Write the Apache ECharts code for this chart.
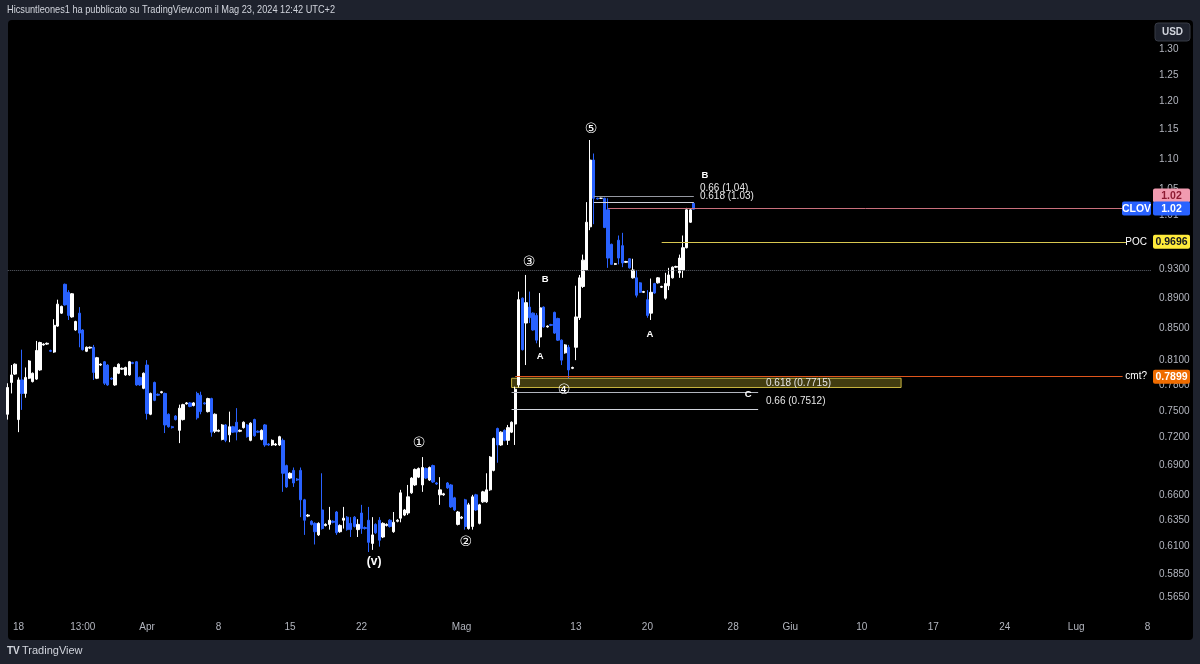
<!DOCTYPE html>
<html><head><meta charset="utf-8">
<script src="https://cdn.jsdelivr.net/npm/echarts@6/dist/echarts.min.js"></script>
<style>html,body{margin:0;padding:0;background:#1e222d;}#c{width:1200px;height:664px;}</style>
</head><body><div id="c"></div>
<script>
// ---------- DATA ----------
// candles: [open, close, low, high] (USD), 4h bars, first 3 bars are 15 Mar 2024
const ohlc = [
[0.746,0.777,0.740,0.782],[0.783,0.792,0.770,0.804],[0.793,0.805,0.792,0.806],[0.740,0.786,0.726,0.789],
[0.786,0.770,0.751,0.823],[0.770,0.789,0.765,0.801],[0.788,0.809,0.787,0.810],[0.784,0.794,0.783,0.795],
[0.787,0.822,0.786,0.834],[0.798,0.832,0.797,0.833],[0.829,0.830,0.828,0.831],[0.830,0.831,0.829,0.832],
[0.822,0.821,0.820,0.823],[0.820,0.854,0.819,0.862],[0.853,0.882,0.852,0.888],[0.870,0.879,0.869,0.880],
[0.909,0.881,0.880,0.910],[0.898,0.867,0.861,0.901],[0.865,0.896,0.864,0.897],[0.848,0.859,0.847,0.860],
[0.870,0.844,0.826,0.878],[0.848,0.823,0.822,0.849],[0.821,0.826,0.820,0.827],[0.825,0.826,0.824,0.827],
[0.826,0.795,0.786,0.829],[0.788,0.813,0.787,0.814],[0.804,0.805,0.803,0.806],[0.808,0.782,0.780,0.809],
[0.804,0.780,0.779,0.805],[0.788,0.787,0.786,0.789],[0.780,0.801,0.779,0.802],
[0.794,0.805,0.793,0.806],[0.799,0.800,0.798,0.801],[0.792,0.801,0.791,0.802],[0.792,0.808,0.791,0.809],
[0.807,0.806,0.805,0.808],[0.808,0.780,0.779,0.809],[0.789,0.780,0.779,0.790],[0.776,0.794,0.775,0.795],
[0.804,0.747,0.740,0.810],[0.746,0.770,0.745,0.771],[0.783,0.762,0.761,0.784],[0.769,0.768,0.767,0.770],
[0.771,0.772,0.770,0.773],[0.770,0.734,0.725,0.771],[0.746,0.732,0.731,0.747],[0.732,0.731,0.730,0.733],
[0.744,0.740,0.739,0.745],[0.728,0.753,0.714,0.757],[0.740,0.757,0.739,0.758],[0.758,0.759,0.757,0.760],
[0.759,0.755,0.754,0.760],[0.756,0.759,0.755,0.760],[0.770,0.742,0.740,0.772],
[0.768,0.749,0.746,0.772],[0.759,0.758,0.757,0.760],[0.749,0.764,0.748,0.765],[0.764,0.726,0.721,0.765],
[0.727,0.746,0.725,0.747],[0.727,0.728,0.726,0.729],[0.718,0.734,0.717,0.735],[0.734,0.717,0.715,0.735],
[0.723,0.732,0.715,0.749],[0.732,0.726,0.725,0.733],[0.737,0.726,0.717,0.753],[0.727,0.728,0.726,0.729],
[0.731,0.737,0.730,0.738],[0.734,0.721,0.720,0.735],[0.717,0.736,0.716,0.737],[0.740,0.722,0.721,0.741],
[0.727,0.726,0.725,0.728],[0.718,0.728,0.717,0.729],[0.734,0.712,0.710,0.735],[0.713,0.712,0.711,0.714],
[0.712,0.717,0.711,0.718],[0.712,0.713,0.711,0.714],[0.712,0.721,0.711,0.722],[0.717,0.682,0.663,0.719],
[0.690,0.668,0.667,0.691],[0.677,0.682,0.676,0.683],[0.685,0.672,0.668,0.688],[0.676,0.675,0.674,0.677],
[0.685,0.655,0.638,0.688],[0.655,0.635,0.621,0.656],[0.639,0.640,0.638,0.641],[0.634,0.631,0.630,0.635],
[0.632,0.624,0.612,0.633],[0.621,0.632,0.620,0.633],[0.645,0.627,0.626,0.682],[0.630,0.631,0.629,0.632],
[0.631,0.635,0.626,0.648],[0.634,0.633,0.632,0.635],[0.643,0.623,0.621,0.644],[0.624,0.630,0.623,0.631],
[0.635,0.637,0.627,0.648],[0.638,0.626,0.625,0.639],[0.632,0.626,0.619,0.638],[0.638,0.629,0.628,0.639],
[0.626,0.631,0.619,0.636],[0.642,0.627,0.622,0.650],[0.628,0.627,0.626,0.629],[0.635,0.614,0.605,0.648],
[0.613,0.621,0.607,0.638],[0.631,0.623,0.622,0.632],[0.635,0.616,0.610,0.638],[0.619,0.632,0.618,0.633],
[0.630,0.631,0.629,0.632],[0.635,0.629,0.628,0.636],[0.624,0.633,0.623,0.643],[0.634,0.635,0.633,0.636],
[0.637,0.662,0.633,0.665],[0.640,0.645,0.639,0.646],[0.642,0.658,0.640,0.670],[0.662,0.677,0.661,0.678],
[0.670,0.686,0.669,0.687],[0.678,0.687,0.677,0.688],[0.670,0.688,0.663,0.699],[0.687,0.677,0.676,0.688],
[0.675,0.688,0.674,0.689],[0.690,0.673,0.672,0.691],[0.672,0.671,0.670,0.673],[0.660,0.665,0.650,0.678],
[0.660,0.661,0.659,0.662],[0.672,0.667,0.666,0.673],[0.670,0.648,0.647,0.671],[0.657,0.645,0.644,0.658],
[0.631,0.643,0.630,0.644],[0.637,0.638,0.636,0.639],[0.655,0.629,0.626,0.656],[0.627,0.650,0.626,0.652],
[0.629,0.658,0.626,0.660],[0.660,0.645,0.644,0.661],[0.632,0.650,0.631,0.651],[0.653,0.663,0.652,0.664],
[0.653,0.665,0.652,0.682],[0.665,0.699,0.664,0.700],[0.685,0.719,0.684,0.720],[0.730,0.712,0.693,0.731],
[0.712,0.726,0.711,0.727],[0.728,0.717,0.716,0.729],[0.717,0.731,0.712,0.734],[0.726,0.737,0.725,0.738],
[0.735,0.775,0.712,0.778],
[0.780,0.888,0.777,0.899],[0.890,0.823,0.822,0.891],[0.857,0.884,0.804,0.922],[0.878,0.864,0.857,0.899],
[0.870,0.848,0.847,0.871],[0.867,0.835,0.831,0.870],[0.839,0.877,0.826,0.897],[0.878,0.852,0.851,0.879],
[0.852,0.853,0.851,0.854],[0.855,0.854,0.853,0.856],[0.871,0.844,0.843,0.872],[0.863,0.835,0.834,0.864],
[0.835,0.810,0.804,0.836],[0.819,0.829,0.818,0.830],[0.826,0.798,0.788,0.829],[0.800,0.801,0.799,0.802],
[0.826,0.865,0.810,0.907],[0.864,0.918,0.861,0.922],[0.906,0.943,0.904,0.951],[0.929,0.999,0.929,1.030],
[0.992,1.098,0.987,1.132],[1.098,1.036,0.996,1.109],[1.036,1.035,1.034,1.037],[1.036,1.036,1.035,1.037],
[1.036,0.991,0.990,1.037],[1.018,0.946,0.932,1.036],[0.966,0.937,0.936,0.967],[0.937,0.938,0.936,0.939],
[0.972,0.946,0.937,0.979],[0.964,0.939,0.933,0.983],[0.940,0.941,0.939,0.942],[0.945,0.932,0.931,0.946],
[0.918,0.929,0.917,0.945],[0.918,0.894,0.891,0.929],[0.911,0.898,0.897,0.912],[0.898,0.899,0.897,0.900],
[0.888,0.867,0.864,0.901],[0.870,0.898,0.861,0.917],[0.910,0.897,0.896,0.911],[0.911,0.918,0.910,0.919],
[0.905,0.906,0.904,0.907],[0.890,0.910,0.888,0.925],[0.907,0.922,0.901,0.932],[0.918,0.933,0.917,0.934],
[0.933,0.934,0.932,0.935],[0.925,0.946,0.918,0.951],[0.929,0.961,0.918,0.979],[0.961,1.018,0.960,1.021],
[0.999,1.018,0.998,1.019],[1.028,1.019,1.018,1.029]
];

// time slots
const barsPerDay = 4;
const firstSessionDay = '2024-03-15';
const firstDayBarsSkipped = 1;
const lastTradedDay = '2024-05-23';
const pastHolidays = ['2024-03-29'];
const totalSlots = 321;

const xTickKeys = ['2024-03-18|0','2024-03-22|2','2024-04-01|0','2024-04-08|0','2024-04-15|0','2024-04-22|0','2024-05-01|0','2024-05-13|0','2024-05-20|0','2024-05-28|0','2024-06-03|0','2024-06-10|0','2024-06-17|0','2024-06-24|0','2024-07-01|0','2024-07-08|0'];
const xTickText = ['18','13:00','Apr','8','15','22','Mag','13','20','28','Giu','10','17','24','Lug','8'];

const yTickValues = [1.30,1.25,1.20,1.15,1.10,1.05,1.01,0.93,0.89,0.85,0.81,0.78,0.75,0.72,0.69,0.66,0.635,0.61,0.585,0.565];
const yTickText = ['1.30','1.25','1.20','1.15','1.10','1.05','1.01','0.9300','0.8900','0.8500','0.8100','0.7800','0.7500','0.7200','0.6900','0.6600','0.6350','0.6100','0.5850','0.5650'];
const priceTop = 1.3586, priceBottom = 0.5523;

// drawn levels: [price, fromBar, toBar]
const prevCloseLevel = [0.928, 0, 320];
const cmtLevel = [0.7899, 142, 312];
const pocLevel = [0.9696, 183, 313];
const lastPriceLevel = [1.02, 168, 312];
const fibUpper = [[1.04, 164, 192], [1.03, 164, 192]];
const fibLower = [[0.7715, 141, 210], [0.7512, 141, 210]];
const zoneBox = [0.788, 0.777, 141, 250];

const waveLabels = [
  ['⑤',163.2,1.151],['③',145.9,0.940],['B',150.4,0.916],['A',149.0,0.815],['①',115.1,0.714],
  ['②',128.2,0.614],['(v)',102.5,0.596],['A',179.7,0.843],['B',195.1,1.073],['C',207.2,0.769],['④',155.7,0.774]
];
const fibTexts = [['0.66 (1.04)',193.7,1.052],['0.618 (1.03)',193.7,1.040],['0.618 (0.7715)',212.2,0.782],['0.66 (0.7512)',212.2,0.761]];

const titleText = 'Hicsuntleones1 ha pubblicato su TradingView.com il Mag 23, 2024 12:42 UTC+2';

// ---------- BUILD ----------
function buildSlots(n){
  const out=[]; const d=new Date(firstSessionDay+'T00:00:00Z'); let first=true;
  while(out.length<n){
    const dow=d.getUTCDay(); const s=d.toISOString().slice(0,10);
    if(dow!==0&&dow!==6&&!(s<=lastTradedDay&&pastHolidays.includes(s))){
      for(let k=(first?firstDayBarsSkipped:0);k<barsPerDay&&out.length<n;k++) out.push(s+'|'+k);
      first=false;
    }
    d.setUTCDate(d.getUTCDate()+1);
  }
  return out;
}
const categories = buildSlots(totalSlots);
const tickMap = new Map(xTickKeys.map((k,i)=>[k,xTickText[i]]));
const L = Math.log;
const FONT = 'Liberation Sans';

function hline(lv, color, type){
  return [{coord:[lv[1], L(lv[0])], lineStyle:{color:color, width:1, type:type||'solid'}},{coord:[lv[2], L(lv[0])]}];
}

const chart = echarts.init(document.getElementById('c'), null, {renderer:'canvas'});
const option = {
  backgroundColor:'#1e222d',
  animation:false,
  grid:{left:6, right:47, top:20, bottom:52, containLabel:false},
  xAxis:{type:'category', data:categories, boundaryGap:true,
    axisLine:{show:false}, axisTick:{show:false}, splitLine:{show:false},
    axisLabel:{color:'#b2b5be', fontSize:10, fontFamily:FONT, margin:10,
      interval:(i,v)=>tickMap.has(v), formatter:(v)=>tickMap.get(v)||''}},
  yAxis:{type:'value', position:'right', min:L(priceBottom), max:L(priceTop), scale:true,
    axisLine:{show:false}, axisTick:{show:false}, splitLine:{show:false},
    axisLabel:{color:'#b2b5be', fontSize:10, fontFamily:FONT, margin:6, align:'left',
      customValues:yTickValues.map(L),
      formatter:(v)=>{let b=0,bd=1e9;yTickValues.forEach((t,i)=>{const d=Math.abs(L(t)-v);if(d<bd){bd=d;b=i;}});return yTickText[b];}}},
  graphic:{elements:[{id:'bg', type:'rect', shape:{x:8,y:20,width:1185,height:620,r:4}, style:{fill:'#000000'}, z:-10, silent:true}]},
  series:[{
    type:'candlestick', data:ohlc.map(r=>r.map(L)), barWidth:2.8,
    itemStyle:{color:'#ffffff', color0:'#2962ff', borderColor:'#ffffff', borderColor0:'#2962ff', borderWidth:1},
    markArea:{silent:true, data:[[{coord:[zoneBox[2], L(zoneBox[0])], itemStyle:{color:'rgba(120,110,30,0.55)', borderColor:'#c9b640', borderWidth:1}},{coord:[zoneBox[3], L(zoneBox[1])]}]]},
    markLine:{silent:true, symbol:['none','none'], label:{show:false}, animation:false,
      data:[
        hline(prevCloseLevel,'#5d606b','dotted'),
        hline(cmtLevel,'#e0561c'),
        hline(pocLevel,'#d8c750'),
        hline(lastPriceLevel,'#c9707c'),
        hline(fibUpper[0],'#9598a1'),
        hline(fibUpper[1],'#d1d4dc'),
        hline(fibLower[0],'#b2b5be'),
        hline(fibLower[1],'#d1d4dc')
      ]}
  }]
};
chart.setOption(option);

// ---------- overlays positioned via the chart's scales ----------
const px = (i,p)=>chart.convertToPixel({gridIndex:0},[i, L(p)]);
const x0 = px(0,1)[0], x100 = px(100,1)[0];
const xAt = (i)=> x0 + (x100-x0)*i/100;
const yAt = (p)=> px(0,p)[1];
const gridRight = 1153;
const els = [];
let n=0;
function txt(x,y,t,opt){
  els.push({id:'t'+(n++), type:'text', x:x, y:y, z:65, silent:true,
    style:Object.assign({text:t, fill:'#ffffff', fontSize:10, fontFamily:FONT, align:'left', verticalAlign:'middle'},opt||{})});
}
function badge(x,yc,w,t,bg,fg){
  els.push({id:'b'+(n++), type:'rect', shape:{x:x,y:yc-7,width:w,height:14,r:2}, style:{fill:bg}, z:60, silent:true});
  els.push({id:'b'+(n++), type:'text', x:x+w/2, y:yc+0.5, z:61, silent:true,
    style:{text:t, fill:fg, fontSize:10.5, fontFamily:FONT, fontWeight:'bold', align:'center', verticalAlign:'middle'}});
}
waveLabels.forEach(w=>{
  const circ = /[①-⑳]/.test(w[0]);
  txt(xAt(w[1]), yAt(w[2]), w[0], {align:'center', fontSize: circ?14:(w[0]==='(v)'?12:9.5), fontWeight: circ?'normal':'bold', fontFamily: circ?'DejaVu Sans':FONT});
});
fibTexts.forEach(f=>txt(xAt(f[1]), yAt(f[2]), f[0], {fontSize:10, fill:'#e6e6e6'}));

// right-side price badges
const yLast = yAt(lastPriceLevel[0]);
badge(gridRight, yLast-13, 37, '1.02', '#f19bb0', '#8e1b33');
badge(gridRight, yLast, 37, '1.02', '#2962ff', '#ffffff');
badge(1122, yLast, 29, 'CLOV', '#2962ff', '#ffffff');
const yPoc = yAt(pocLevel[0]);
badge(gridRight, yPoc, 37, '0.9696', '#ffeb3b', '#131722');
txt(1147, yPoc, 'POC', {align:'right', fontSize:10});
const yCmt = yAt(cmtLevel[0]);
badge(gridRight, yCmt, 37, '0.7899', '#ef6c00', '#ffffff');
txt(1147, yCmt, 'cmt?', {align:'right', fontSize:10});

// header / footer / currency box
els.push({id:'usd', type:'rect', shape:{x:1155,y:23,width:35,height:18,r:3}, style:{fill:'#1e222d', stroke:'#363a45', lineWidth:1}, z:60, silent:true});
txt(1172.5, 32, 'USD', {align:'center', fontSize:10, fill:'#d1d4dc', fontWeight:'bold'});
els.push({id:'title', type:'text', x:7, y:10, z:50, scaleX:0.8, silent:true,
  style:{text:titleText, fill:'#d1d4dc', fontSize:11.5, fontFamily:FONT, align:'left', verticalAlign:'middle'}});
txt(7, 651, 'TV', {fontSize:10, fontWeight:'bold', fill:'#d1d4dc'});
txt(22, 651, 'TradingView', {fontSize:11, fill:'#d1d4dc'});

chart.setOption({graphic:{elements:els}});
</script></body></html>
